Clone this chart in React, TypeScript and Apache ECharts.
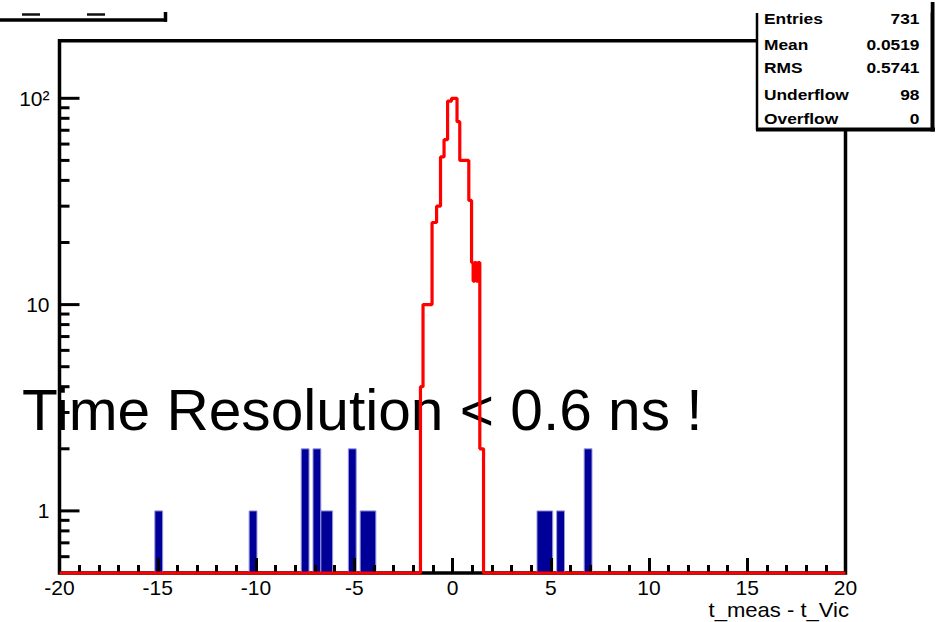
import React, { useEffect, useRef } from "react";
import * as echarts from "echarts";

// Axis ranges
const X_MIN = -20;
const X_MAX = 20;
const Y_MIN = 0.5;
const Y_MAX = 190;

// Axis tick labels and title
const xTickLabels = [-20, -15, -10, -5, 0, 5, 10, 15, 20];
const yLabelValues = [1, 10, 100];
const xTitle = "t_meas - t_Vic";

// Matched (red) timing histogram: bin edges and bin contents
const redEdges = [-1.63, -1.5, -1.04, -0.81, -0.61, -0.43, -0.25, -0.05, 0.23, 0.37, 0.83, 0.97, 1.05, 1.13, 1.21, 1.29, 1.39, 1.58];
const redCounts = [4, 10, 25, 30, 52, 63, 97, 100, 77, 50, 32, 16, 13, 16, 13, 16, 2];

// Background (blue) histogram: bar low edge, high edge, content
const blueLow = [-15.15, -10.35, -7.7, -7.1, -6.7, -5.3, -4.7, 4.3, 5.3, 6.7];
const blueHigh = [-14.75, -9.95, -7.3, -6.7, -6.1, -4.9, -3.9, 5.1, 5.7, 7.1];
const blueCounts = [1, 1, 2, 2, 1, 2, 1, 1, 1, 2];

// Statistics box
const statNames = ["Entries", "Mean", "RMS", "Underflow", "Overflow"];
const statValues = ["731", "0.0519", "0.5741", "98", "0"];
const statRowY = [18.5, 44.6, 67, 94.3, 118.6];

const FONT = '"Liberation Sans", Arial, Helvetica, sans-serif';

function buildRedOutline(): number[][] {
  const pts: number[][] = [[X_MIN, Y_MIN], [redEdges[0], Y_MIN]];
  for (let i = 0; i < redCounts.length; i++) {
    const c = Math.max(redCounts[i], Y_MIN);
    pts.push([redEdges[i], c]);
    pts.push([redEdges[i + 1], c]);
  }
  pts.push([redEdges[redEdges.length - 1], Y_MIN]);
  pts.push([X_MAX, Y_MIN]);
  return pts;
}

function buildYTicks(): number[][] {
  const out: number[][] = [];
  for (let d = -1; d <= 2; d++) {
    for (let m = 1; m <= 9; m++) {
      const v = m * Math.pow(10, d);
      if (v > Y_MIN && v < Y_MAX) out.push([X_MIN, v, m === 1 ? 1 : 0]);
    }
  }
  return out;
}

function isDecade(v: number): boolean {
  return yLabelValues.some((d) => Math.abs(v - d) / d < 1e-6);
}

export default function App() {
  const ref = useRef<HTMLDivElement>(null);

  useEffect(() => {
    if (!ref.current) return;
    const chart = echarts.init(ref.current, undefined, { renderer: "svg" });

    const blueData = blueCounts.map((c, i) => [blueLow[i], blueHigh[i], c]);

    const statTexts: any[] = [];
    statNames.forEach((name, i) => {
      statTexts.push({
        type: "text",
        x: 764,
        y: statRowY[i],
        scaleX: 1.12,
        z: 11,
        style: { text: name, font: `bold 15.5px ${FONT}`, fill: "#000", verticalAlign: "middle", align: "left" },
      });
      statTexts.push({
        type: "text",
        x: 919.5,
        y: statRowY[i],
        scaleX: 1.12,
        z: 11,
        style: { text: statValues[i], font: `bold 15.5px ${FONT}`, fill: "#000", verticalAlign: "middle", align: "right" },
      });
    });

    chart.setOption({
      animation: false,
      backgroundColor: "#ffffff",
      grid: {
        left: 59.5,
        top: 40.8,
        right: 98.5,
        bottom: 49,
        show: true,
        borderColor: "#000",
        borderWidth: 3.5,
        backgroundColor: "transparent",
        outerBoundsMode: "none",
      },
      xAxis: {
        type: "value",
        min: X_MIN,
        max: X_MAX,
        interval: 5,
        z: 3,
        axisLine: { show: false },
        splitLine: { show: false },
        axisTick: { show: true, inside: true, length: 15, lineStyle: { color: "#000", width: 3 } },
        minorTick: { show: true, splitNumber: 5, length: 8, lineStyle: { color: "#000", width: 3 } },
        axisLabel: {
          margin: 4,
          fontSize: 21,
          fontFamily: FONT,
          color: "#000",
          formatter: (v: number) => (xTickLabels.includes(v) ? String(v) : ""),
        },
      },
      yAxis: {
        type: "log",
        logBase: 10,
        min: Y_MIN,
        max: Y_MAX,
        axisLine: { show: false },
        splitLine: { show: false },
        axisTick: { show: false },
        axisLabel: {
          margin: 10,
          fontSize: 21,
          fontFamily: FONT,
          color: "#000",
          showMinLabel: false,
          showMaxLabel: false,
          formatter: (v: number) => {
            if (!isDecade(v)) return "";
            if (Math.abs(v - 100) < 1e-6) return "10²";
            return String(Math.round(v));
          },
        },
      },
      series: [
        {
          name: "background",
          type: "custom",
          z: 2,
          data: blueData,
          encode: { x: [0, 1], y: 2 },
          renderItem: (_p: any, api: any) => {
            const a = api.coord([api.value(0), api.value(2)]);
            const b = api.coord([api.value(1), Y_MIN]);
            return {
              type: "rect",
              shape: { x: a[0], y: a[1], width: b[0] - a[0], height: b[1] - a[1] },
              style: { fill: "#000099", stroke: "#9a9ae0", lineWidth: 1 },
            };
          },
        },
        {
          name: "yticks",
          type: "custom",
          z: 3,
          silent: true,
          data: buildYTicks(),
          encode: { x: 0, y: 1 },
          renderItem: (_p: any, api: any) => {
            const p = api.coord([api.value(0), api.value(1)]);
            const len = api.value(2) ? 20 : 10;
            return {
              type: "line",
              shape: { x1: p[0], y1: p[1], x2: p[0] + len, y2: p[1] },
              style: { stroke: "#000", lineWidth: 3 },
            };
          },
        },
        {
          name: "signal",
          type: "line",
          z: 5,
          clip: false,
          symbol: "none",
          data: buildRedOutline(),
          lineStyle: { color: "#ff0000", width: 3.2 },
        },
      ],
      graphic: [
        {
          type: "text",
          x: 22,
          y: 409.5,
          z: 1,
          scaleX: 1.02,
          style: {
            text: "Time Resolution < 0.6 ns !",
            font: `57.5px ${FONT}`,
            fill: "#000",
            verticalAlign: "middle",
            align: "left",
          },
        },
        // x axis title, right-aligned under the axis end
        {
          type: "text",
          x: 849,
          y: 610,
          z: 4,
          scaleX: 1.05,
          style: { text: xTitle, font: `21px ${FONT}`, fill: "#000", verticalAlign: "middle", align: "right" },
        },
        // fragment of the title box at the top left
        { type: "line", z: 10, shape: { x1: 0, y1: 20, x2: 167, y2: 20 }, style: { stroke: "#000", lineWidth: 3.5 } },
        { type: "line", z: 10, shape: { x1: 165.5, y1: 12, x2: 165.5, y2: 21.7 }, style: { stroke: "#000", lineWidth: 3.5 } },
        { type: "line", z: 10, shape: { x1: 22, y1: 14.5, x2: 40, y2: 14.5 }, style: { stroke: "#111", lineWidth: 2.5 } },
        { type: "line", z: 10, shape: { x1: 87, y1: 14.5, x2: 105, y2: 14.5 }, style: { stroke: "#111", lineWidth: 2.5 } },
        // statistics box
        { type: "rect", z: 10, shape: { x: 757, y: 0, width: 176, height: 130 }, style: { fill: "#fff" } },
        { type: "line", z: 12, shape: { x1: 757, y1: 13, x2: 757, y2: 130 }, style: { stroke: "#000", lineWidth: 2.5 } },
        { type: "line", z: 12, shape: { x1: 756, y1: 129.5, x2: 935, y2: 129.5 }, style: { stroke: "#000", lineWidth: 4 } },
        { type: "line", z: 12, shape: { x1: 932.5, y1: 2, x2: 932.5, y2: 131.5 }, style: { stroke: "#000", lineWidth: 4 } },
        ...statTexts,
        { type: "rect", z: 13, shape: { x: 758.5, y: 0, width: 172, height: 12.5 }, style: { fill: "#fff" } },
      ],
    });

    return () => chart.dispose();
  }, []);

  return (
    <div
      ref={ref}
      style={{ position: "fixed", left: 0, top: 0, width: 944, height: 622, background: "#fff" }}
    />
  );
}
